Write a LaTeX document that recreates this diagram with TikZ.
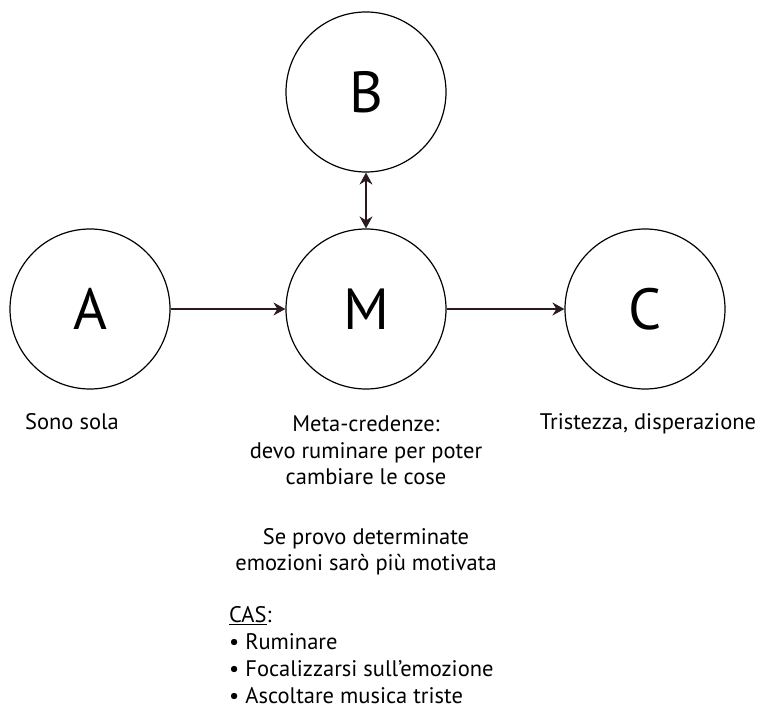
\documentclass[tikz,border=0pt]{standalone}
\usepackage{fontspec}
\setmainfont{PT Sans}
\usetikzlibrary{arrows.meta}
\definecolor{arrcol}{HTML}{2B1B1E}
\begin{document}
\begin{tikzpicture}[x=1pt,y=-1pt,
  circ/.style={draw=black,line width=1.2pt,circle,minimum size=160pt,inner sep=0pt,font=\fontsize{58}{58}\selectfont},
  tip/.tip={Stealth[length=12pt,width=13pt,inset=4pt]},
  conn/.style={draw=arrcol,line width=1.4pt,-tip},
  lbl/.style={font=\fontsize{22.5}{26.8}\selectfont,align=center,inner sep=0pt,anchor=base}]
\useasboundingbox (0,0) rectangle (761,708);
\node[circ] (A) at (90,309) {A};
\node[circ] (M) at (366,309) {M};
\node[circ] (C) at (645,309) {C};
\node[circ] (B) at (366,92) {B};
\draw[conn] (A) -- (M);
\draw[conn] (M) -- (C);
\draw[conn,tip-tip] (B) -- (M);
\node[lbl] (la) at (72,430) {Sono sola};
\node[lbl] (lm) at (366,485) {Meta-credenze:\\devo ruminare per poter\\cambiare le cose};
\node[lbl] (lc) at (648,430) {Tristezza, disperazione};
\node[lbl] (ls) at (366,571) {Se provo determinate\\emozioni sarò più motivata};
\node[lbl,anchor=base west,align=left] (lcas) at (229,703) {\underline{CAS}:\\\textbullet\ Ruminare\\\textbullet\ Focalizzarsi sull’emozione\\\textbullet\ Ascoltare musica triste};
\end{tikzpicture}
\end{document}
